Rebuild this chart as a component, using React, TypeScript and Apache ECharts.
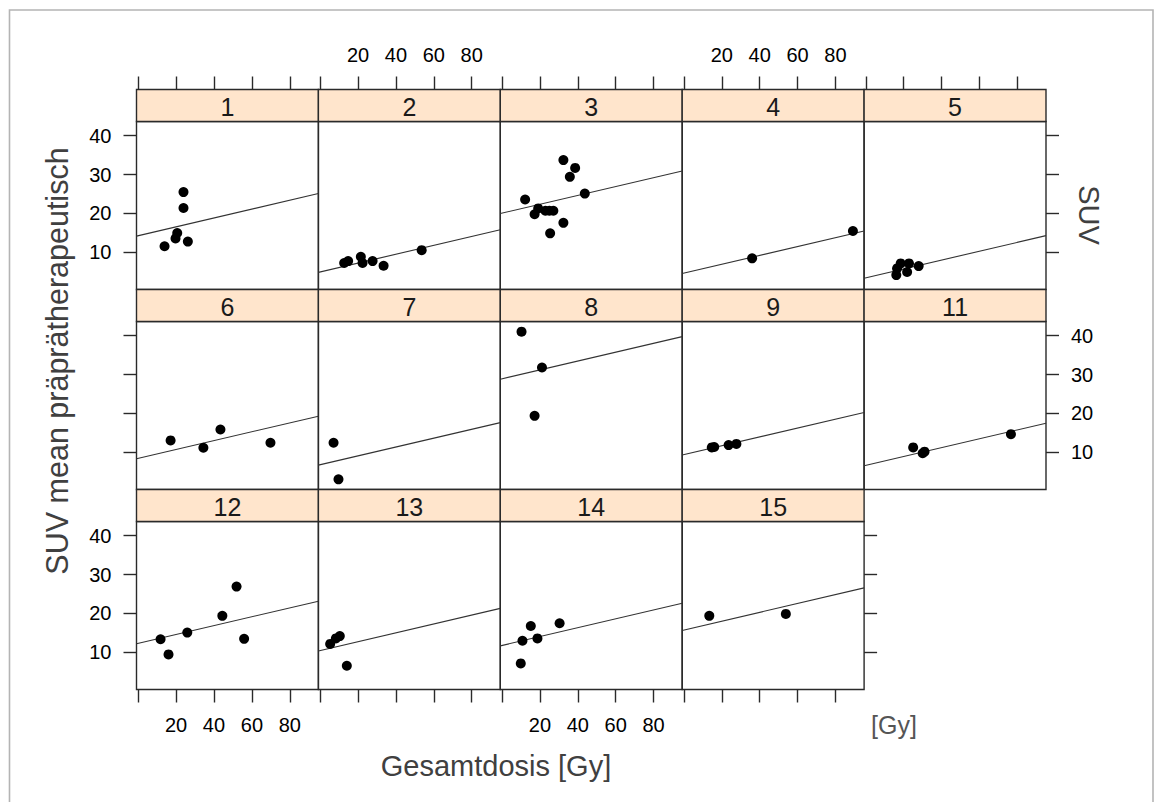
import React, { useEffect, useRef } from "react";
import * as echarts from "echarts";

// ---- data ----
const panelLabels = ["1", "2", "3", "4", "5", "6", "7", "8", "9", "11", "12", "13", "14", "15"];

const doseByPanel: number[][] = [
  [13.9, 19.7, 20.6, 23.9, 23.9, 26.2],
  [12.7, 14.8, 21.5, 22.4, 27.7, 33.5, 53.6],
  [12.2, 17.2, 19.1, 22.9, 25.0, 27.1, 25.4, 32.4, 32.4, 35.8, 38.6, 43.7],
  [36.0, 89.2],
  [16.1, 16.5, 18.4, 21.8, 22.8, 27.9],
  [17.1, 34.4, 43.4, 69.8],
  [7.1, 9.7],
  [10.3, 21.1, 17.2],
  [14.7, 16.0, 23.6, 27.7],
  [25.0, 30.0, 31.0, 76.6],
  [11.8, 16.0, 25.9, 44.4, 51.9, 55.9],
  [5.3, 8.3, 10.4, 14.1],
  [9.9, 10.8, 15.2, 18.7, 30.4],
  [13.4, 53.8],
];

const suvByPanel: number[][] = [
  [11.6, 13.6, 15.0, 21.4, 25.5, 12.8],
  [7.3, 7.8, 8.9, 7.3, 7.8, 6.6, 10.6],
  [23.6, 19.8, 21.3, 20.7, 20.7, 20.7, 14.9, 17.6, 33.7, 29.4, 31.7, 25.1],
  [8.5, 15.5],
  [4.2, 5.9, 7.2, 5.0, 7.2, 6.5],
  [13.1, 11.2, 15.9, 12.5],
  [12.5, 3.1],
  [41.0, 31.8, 19.4],
  [11.3, 11.4, 11.9, 12.2],
  [11.3, 9.8, 10.2, 14.7],
  [13.4, 9.5, 15.1, 19.4, 26.9, 13.5],
  [12.2, 13.6, 14.2, 6.6],
  [7.2, 13.0, 16.8, 13.6, 17.5],
  [19.4, 19.9],
];

// fitted lines: common slope, panel-specific intercept (SUV at dose 0)
const fitIntercepts = [14.3, 5.0, 20.1, 4.7, 3.5, 8.5, 6.85, 28.9, 9.45, 6.7, 12.35, 10.5, 11.8, 15.75];
const fitSlope = 0.1137;

const doseTicks = [0, 20, 40, 60, 80];
const doseTickLabels = [20, 40, 60, 80];
const suvTicks = [10, 20, 30, 40];

const X_MIN = -0.9;
const X_MAX = 95.1;
const Y_MIN = 0.5;
const Y_MAX = 43.6;

const FONT = "'Liberation Sans', Arial, Helvetica, sans-serif";

export default function App() {
  const ref = useRef<HTMLDivElement>(null);

  useEffect(() => {
    document.body.style.margin = "0";
    const chart = echarts.init(ref.current!, null, { renderer: "svg" });

    const NCOL = 5;
    const colW = 181.9;
    const colX = (c: number) => 136.5 + colW * c;
    const stripTop = (r: number) => 89.5 + 200 * r;
    const stripH = 32;
    const panelH = 168;
    const tickColor = "#2a2a2a";

    const grids: any[] = [];
    const xAxes: any[] = [];
    const yAxes: any[] = [];
    const series: any[] = [];
    const graphics: any[] = [];

    const n = panelLabels.length;
    panelLabels.forEach((lab, i) => {
      const r = Math.floor(i / NCOL);
      const c = i % NCOL;
      const isBottomRow = r === 2;
      const isLastInRow = c === NCOL - 1 || i === n - 1;

      grids.push({
        left: colX(c),
        top: stripTop(r) + stripH,
        width: colW,
        height: panelH,
        show: true,
        borderColor: "#2a2a2a",
        borderWidth: 1.4,
        backgroundColor: "transparent",
      });

      const tickBase = {
        length: 13,
        lineStyle: { color: tickColor, width: 1.4 },
      };
      const labelBase = {
        fontSize: 20,
        color: "#000",
        fontFamily: FONT,
        margin: 25,
      };
      const noLine = { show: false, onZero: false };

      // bottom x axis
      xAxes.push({
        type: "value",
        gridIndex: i,
        position: "bottom",
        min: X_MIN,
        max: X_MAX,
        show: isBottomRow,
        axisLine: noLine,
        splitLine: { show: false },
        axisTick: { show: isBottomRow, customValues: doseTicks, ...tickBase },
        axisLabel: {
          show: isBottomRow && (c === 0 || c === 2),
          customValues: doseTickLabels,
          ...labelBase,
        },
      });
      // top x axis (above strip)
      xAxes.push({
        type: "value",
        gridIndex: i,
        position: "top",
        offset: stripH,
        min: X_MIN,
        max: X_MAX,
        show: r === 0,
        axisLine: noLine,
        splitLine: { show: false },
        axisTick: { show: r === 0, customValues: doseTicks, ...tickBase },
        axisLabel: {
          show: r === 0 && (c === 1 || c === 3),
          customValues: doseTickLabels,
          ...labelBase,
        },
      });
      // left y axis
      yAxes.push({
        type: "value",
        gridIndex: i,
        position: "left",
        min: Y_MIN,
        max: Y_MAX,
        show: c === 0,
        axisLine: noLine,
        splitLine: { show: false },
        axisTick: { show: c === 0, customValues: suvTicks, ...tickBase },
        axisLabel: {
          show: c === 0 && (r === 0 || r === 2),
          customValues: suvTicks,
          ...labelBase,
        },
      });
      // right y axis
      yAxes.push({
        type: "value",
        gridIndex: i,
        position: "right",
        min: Y_MIN,
        max: Y_MAX,
        show: isLastInRow,
        axisLine: noLine,
        splitLine: { show: false },
        axisTick: { show: isLastInRow, customValues: suvTicks, ...tickBase },
        axisLabel: {
          show: isLastInRow && r === 1,
          customValues: suvTicks,
          ...labelBase,
        },
      });

      const pts = doseByPanel[i].map((d, k) => [d, suvByPanel[i][k]]);
      series.push({
        type: "line",
        xAxisIndex: 2 * i,
        yAxisIndex: 2 * i,
        data: [
          [X_MIN, fitIntercepts[i] + fitSlope * X_MIN],
          [X_MAX, fitIntercepts[i] + fitSlope * X_MAX],
        ],
        showSymbol: false,
        symbol: "none",
        lineStyle: { color: "#333", width: 1.1 },
        clip: true,
        silent: true,
        z: 2,
      });
      series.push({
        type: "scatter",
        xAxisIndex: 2 * i,
        yAxisIndex: 2 * i,
        data: pts,
        symbol: "circle",
        symbolSize: 10,
        itemStyle: { color: "#000", opacity: 1 },
        z: 3,
      });

      // strip
      graphics.push({
        type: "rect",
        shape: { x: colX(c), y: stripTop(r), width: colW, height: stripH },
        style: { fill: "#ffe5cc", stroke: "#2a2a2a", lineWidth: 1.4 },
        z: 10,
      });
      graphics.push({
        type: "text",
        x: colX(c) + colW / 2,
        y: stripTop(r) + stripH / 2 + 1,
        style: {
          text: lab,
          fontSize: 25,
          fontFamily: FONT,
          fill: "#1a1a1a",
          align: "center",
          verticalAlign: "middle",
        },
        z: 11,
      });
    });

    // outer frame
    graphics.push({
      type: "rect",
      shape: { x: 9.5, y: 10, width: 1143.5, height: 820 },
      style: { fill: "none", stroke: "#b4b4b4", lineWidth: 1.6 },
      z: 0,
    });
    // axis titles
    graphics.push({
      type: "text",
      x: 57,
      y: 361,
      rotation: Math.PI / 2,
      style: {
        text: "SUV mean präprätherapeutisch",
        fontSize: 30.5,
        fontFamily: FONT,
        fill: "#404040",
        align: "center",
        verticalAlign: "middle",
      },
      z: 12,
    });
    graphics.push({
      type: "text",
      x: 496,
      y: 766,
      style: {
        text: "Gesamtdosis [Gy]",
        fontSize: 29,
        fontFamily: FONT,
        fill: "#404040",
        align: "center",
        verticalAlign: "middle",
      },
      z: 12,
    });
    graphics.push({
      type: "text",
      x: 1089,
      y: 215,
      rotation: -Math.PI / 2,
      style: {
        text: "SUV",
        fontSize: 29,
        fontFamily: FONT,
        fill: "#404040",
        align: "center",
        verticalAlign: "middle",
      },
      z: 12,
    });
    graphics.push({
      type: "text",
      x: 894,
      y: 725,
      style: {
        text: "[Gy]",
        fontSize: 25,
        fontFamily: FONT,
        fill: "#555",
        align: "center",
        verticalAlign: "middle",
      },
      z: 12,
    });

    chart.setOption({
      animation: false,
      backgroundColor: "#fff",
      grid: grids,
      xAxis: xAxes,
      yAxis: yAxes,
      series,
      graphic: graphics,
    });

    return () => chart.dispose();
  }, []);

  return <div ref={ref} style={{ width: 1154, height: 802 }} />;
}
